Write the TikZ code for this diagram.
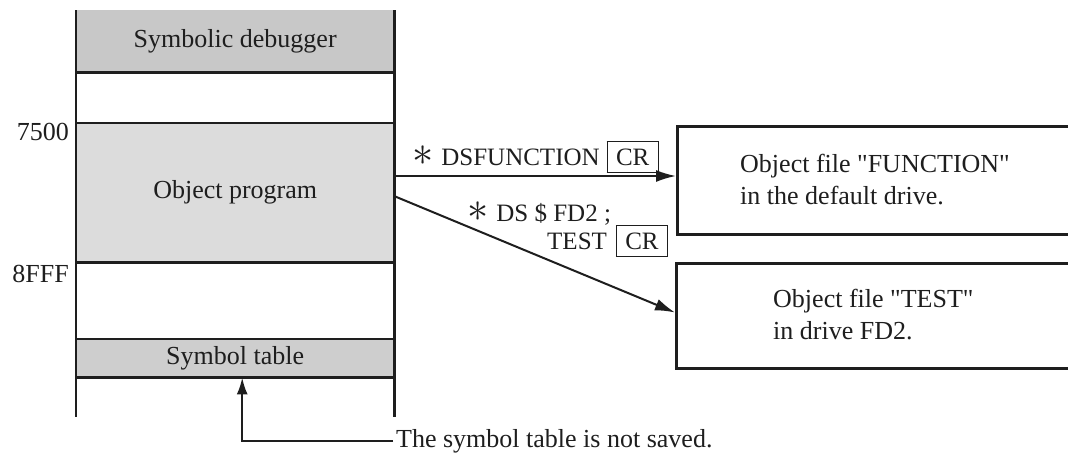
\documentclass[tikz,border=0pt]{standalone}
\usepackage{fontspec}
\setmainfont{Liberation Serif}
\usetikzlibrary{arrows.meta}
\definecolor{gdbg}{RGB}{200,200,200}
\definecolor{gobj}{RGB}{220,220,220}
\definecolor{gsym}{RGB}{206,206,206}
\definecolor{ink}{RGB}{30,30,30}
\newcommand\astk{\scalebox{1.7}{$\ast$}}
\newcommand\crkey{{\setlength\fboxsep{0pt}\setlength\fboxrule{1pt}\fbox{\makebox[50pt]{\rule[-7pt]{0pt}{30pt}CR}}}}
\newcommand\qq{\textquotedbl}
\begin{document}
\begin{tikzpicture}[x=1pt,y=-1pt,
  txt/.style={font=\fontsize{26}{32}\selectfont, inner sep=0pt, text=ink},
  lbl/.style={font=\fontsize{25}{30}\selectfont, inner sep=0pt, anchor=base west, text=ink},
  band/.style={font=\fontsize{26}{32}\selectfont, text=ink, minimum width=318pt, inner sep=0pt, anchor=north west},
  memline/.style={draw=ink, line width=2.6pt},
  outbox/.style={draw=ink, line width=3pt, minimum width=440pt, inner sep=0pt, anchor=north west},
  arr/.style={draw=ink, line width=2pt, -{Latex[length=20pt,width=12pt]}}]
\clip (0,0) rectangle (1068,455);
\fill[white] (0,0) rectangle (1068,455);
% memory map bands
\node[band, fill=gdbg, minimum height=62pt] (dbg) at (76,10) {Symbolic debugger};
\node[band, minimum height=51pt] (free1) at (76,72) {};
\node[band, fill=gobj, minimum height=139pt] (obj) at (76,123) {Object program};
\node[band, minimum height=77pt] (free2) at (76,262) {};
\node[band, fill=gsym, minimum height=38pt] (sym) at (76,339) {Symbol table};
\node[band, minimum height=40pt] (free3) at (76,377) {};
% frame lines
\draw[memline] (dbg.north west) -- (free3.south west);
\draw[memline] (dbg.north east) -- (free3.south east);
\draw[memline] (dbg.south west) -- (dbg.south east);
\draw[memline] (obj.north west) -- (obj.north east);
\draw[memline] (obj.south west) -- (obj.south east);
\draw[memline] (sym.north west) -- (sym.north east);
\draw[memline] (sym.south west) -- (sym.south east);
% addresses
\node[txt, anchor=base east] (a7500) at (69,140) {7500};
\node[txt, anchor=base east] (a8fff) at (69,282) {8FFF};
% output boxes
\node[outbox, minimum height=108pt] (f1) at (676,125) {};
\node[outbox, minimum height=105pt] (f2) at (675,262) {};
\node[txt, anchor=north west, align=left] (t1) at (740,154) {Object file \qq FUNCTION\qq\\in the default drive.};
\node[txt, anchor=north west, align=left] (t2) at (773,289) {Object file \qq TEST\qq\\in drive FD2.};
% commands
\coordinate (s1) at (394,176);
\coordinate (s2) at (394,196);
\draw[arr] (s1) -- (s1 -| f1.west);
\draw[arr] (s2) -- ([yshift=3.5pt]f2.west);
\node[lbl] (c1) at (412,165) {\astk\hspace{8pt}DSFUNCTION\hspace{7pt}\crkey};
\node[lbl] (c2a) at (467,221) {\astk\hspace{8pt}DS \$ FD2 ;};
\node[lbl] (c2b) at (547,249) {TEST\hspace{9pt}\crkey};
% note
\node[txt, anchor=base west] (note) at (396,447) {The symbol table is not saved.};
\draw[arr, line width=2.4pt, -{Latex[length=17pt,width=11pt]}] ([xshift=-3pt]note.west) -| ([xshift=7pt]sym.south);
\end{tikzpicture}
\end{document}
